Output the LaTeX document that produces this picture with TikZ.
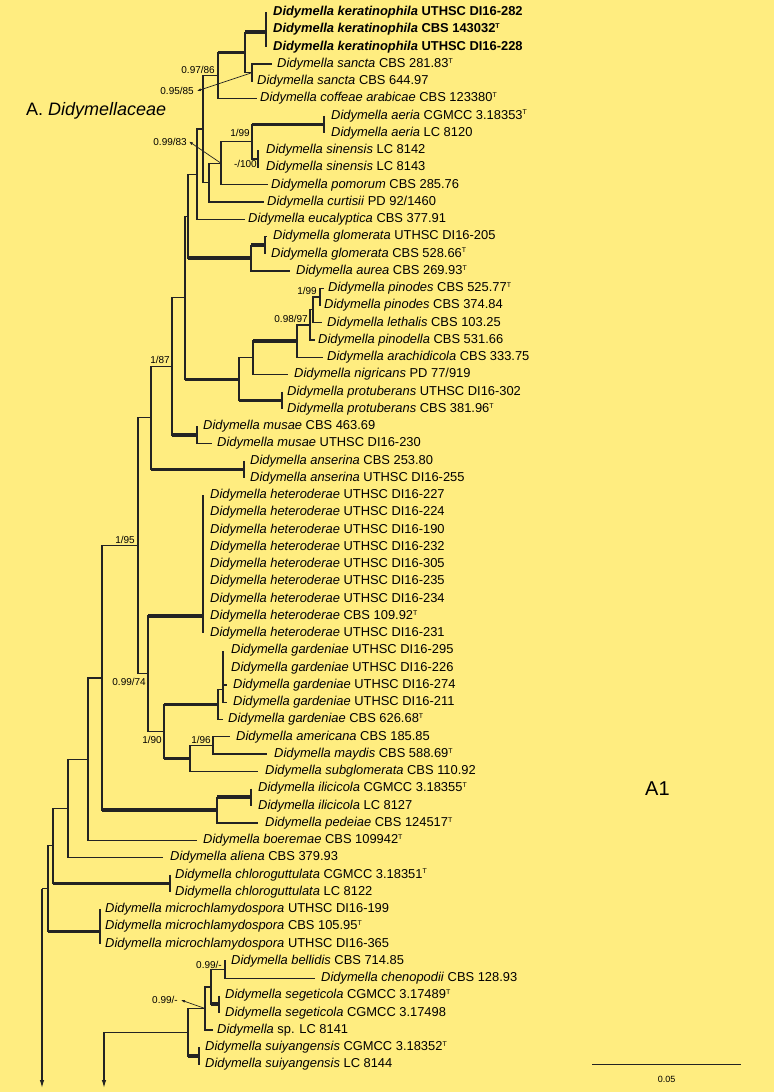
\documentclass[tikz,border=0pt]{standalone}
\usepackage{fontspec}
\setmainfont{Liberation Sans}
\usetikzlibrary{positioning,arrows.meta}
\definecolor{Paper}{RGB}{255,237,128}
\definecolor{Ink}{RGB}{35,35,35}
\newcommand\did[2]{\textit{Didymella #1} #2}
\newcommand\typ{\raisebox{4.3pt}{\fontsize{7}{7}\selectfont T}}

\begin{document}
\begin{tikzpicture}[x=1pt,y=-17.25pt,
 ln/.style={draw=Ink,line width=1.2pt},
 tk/.style={draw=Ink,line width=3.4pt},
 tax/.style={anchor=west,inner sep=0pt,font=\fontsize{12.9}{14}\selectfont,text height=9.3pt,text depth=2.7pt},
 bs/.style={inner sep=0pt,font=\fontsize{10}{11}\selectfont,text height=7.2pt,text depth=0pt},
 ptr/.style={draw=Ink,line width=.7pt,-{Latex[length=4pt,width=3pt]}},
 root/.style={draw=Ink,line width=1.2pt,-{Latex[length=8pt,width=4.5pt]}}]
\fill[Paper] (0,0.28696) rectangle (774,63.5913);

% tips
\coordinate (t1) at (266,1); \coordinate (t2) at (266,2); \coordinate (t3) at (266,3);
\coordinate (t4) at (272,4); \coordinate (t5) at (253,5); \coordinate (t6) at (257,6);
\coordinate (t7) at (324,7); \coordinate (t8) at (324,8);
\coordinate (t9) at (258,9); \coordinate (t10) at (258,10);
\coordinate (t11) at (268,11); \coordinate (t12) at (264,12); \coordinate (t13) at (245,13);
\coordinate (t14) at (267,14); \coordinate (t15) at (265,15); \coordinate (t16) at (290,16);
\coordinate (t17) at (324,17); \coordinate (t18) at (320,18); \coordinate (t19) at (322,19);
\coordinate (t20) at (315,20); \coordinate (t21) at (323,21); \coordinate (t22) at (288,22);
\coordinate (t23) at (282,23); \coordinate (t24) at (282,24);
\coordinate (t25) at (197,25); \coordinate (t26) at (212,26);
\coordinate (t27) at (244,27); \coordinate (t28) at (244,28);
\coordinate (t29) at (203,29); \coordinate (t30) at (203,30); \coordinate (t31) at (203,31);
\coordinate (t32) at (203,32); \coordinate (t33) at (203,33); \coordinate (t34) at (203,34);
\coordinate (t35) at (203,35); \coordinate (t36) at (203,36); \coordinate (t37) at (203,37);
\coordinate (t38) at (223,38); \coordinate (t39) at (223,39); \coordinate (t40) at (227,40);
\coordinate (t41) at (227,41); \coordinate (t42) at (223,42);
\coordinate (t43) at (230,43); \coordinate (t44) at (267,44); \coordinate (t45) at (258,45);
\coordinate (t46) at (251,46); \coordinate (t47) at (251,47); \coordinate (t48) at (258,48);
\coordinate (t49) at (197,49); \coordinate (t50) at (163,50);
\coordinate (t51) at (170,51); \coordinate (t52) at (170,52);
\coordinate (t53) at (100,53); \coordinate (t54) at (100,54); \coordinate (t55) at (100,55);
\coordinate (t56) at (226,56); \coordinate (t57) at (315,57);
\coordinate (t58) at (219,58); \coordinate (t59) at (219,59); \coordinate (t60) at (213,60);
\coordinate (t61) at (199,61); \coordinate (t62) at (199,62);

% internal nodes
\coordinate (ker) at (266,2.15); \coordinate (san) at (252,4.5);
\coordinate (kersan) at (245,3.33); \coordinate (cof) at (218,4.67);
\coordinate (aer) at (324,7.5); \coordinate (sin) at (258,9.5);
\coordinate (a199) at (252,8.5); \coordinate (pom) at (221,9.75);
\coordinate (cur) at (209,10.875); \coordinate (n203) at (203,7.77);
\coordinate (euc) at (197,10.385); \coordinate (glo) at (265,14.5);
\coordinate (aur) at (251,15.25); \coordinate (n188) at (188,12.82);
\coordinate (pin) at (320,17.5); \coordinate (let) at (313,18.25);
\coordinate (p9897) at (310,19.125); \coordinate (ara) at (297,20.06);
\coordinate (nig) at (253,21.03); \coordinate (pro) at (282,23.5);
\coordinate (n239) at (239,22.27); \coordinate (n185) at (185,17.54);
\coordinate (mus) at (197,25.5); \coordinate (a187) at (172,21.52);
\coordinate (ans) at (244,27.5); \coordinate (n151) at (151,24.51);
\coordinate (het) at (203,36); \coordinate (gar4) at (223,40.25);
\coordinate (gar) at (218,41.125); \coordinate (a196) at (213,43.5);
\coordinate (sub) at (190,44.25); \coordinate (a190) at (164,42.69);
\coordinate (a9974) at (148,39.34); \coordinate (a195) at (138,31.93);
\coordinate (ili) at (251,46.5); \coordinate (ped) at (217,47.25);
\coordinate (n102) at (102,39.59); \coordinate (boe) at (88,44.3);
\coordinate (ali) at (68,47.15); \coordinate (chl) at (170,51.5);
\coordinate (n53) at (53,49.32); \coordinate (mic) at (100,54.3);
\coordinate (n48) at (48,51.81); \coordinate (n42) at (42,51.81);
\coordinate (e42) at (42,63.36);
\coordinate (bel) at (225,56.5); \coordinate (seg) at (219,58.5);
\coordinate (n211) at (211,57.5); \coordinate (x205) at (205,58.75);
\coordinate (sui) at (199,61.5); \coordinate (w188) at (188,60.125);
\coordinate (n104) at (104,60.125); \coordinate (e104) at (104,63.36);

% branches
\draw[ln] (t1)--(t3); \draw[ln] (san)|-(t4); \draw[ln] (san)|-(t5);
\draw[ln] (kersan)|-(ker); \draw[tk] (kersan|-ker)--(ker); \draw[ln] (kersan)|-(san);
\draw[ln] (cof)|-(kersan); \draw[tk] (cof|-kersan)--(kersan); \draw[ln] (cof)|-(t6);
\draw[ln] (t7)--(t8); \draw[ln] (t9)--(t10);
\draw[ln] (a199)|-(aer); \draw[tk] (a199|-aer)--(aer); \draw[ln] (a199)|-(sin);
\draw[ln] (pom)|-(a199); \draw[ln] (pom)|-(t11);
\draw[ln] (cur)|-(pom); \draw[ln] (cur)|-(t12);
\draw[ln] (n203)|-(cof); \draw[ln] (n203)|-(cur);
\draw[ln] (euc)|-(n203); \draw[ln] (euc)|-(t13);
\draw[ln] (glo)|-(t14); \draw[ln] (glo)|-(t15);
\draw[ln] (aur)|-(glo); \draw[tk] (aur|-glo)--(glo); \draw[ln] (aur)|-(t16);
\draw[ln] (n188)|-(euc); \draw[ln] (n188)|-(aur); \draw[tk] (n188|-aur)--(aur);
\draw[ln] (pin)|-(t17); \draw[ln] (pin)|-(t18);
\draw[ln] (let)|-(pin); \draw[ln] (let)|-(t19);
\draw[ln] (p9897)|-(let); \draw[ln] (p9897)|-(t20);
\draw[ln] (ara)|-(p9897); \draw[ln] (ara)|-(t21);
\draw[ln] (nig)|-(ara); \draw[tk] (nig|-ara)--(ara); \draw[ln] (nig)|-(t22);
\draw[ln] (t23)--(t24);
\draw[ln] (n239)|-(nig); \draw[ln] (n239)|-(pro); \draw[tk] (n239|-pro)--(pro);
\draw[ln] (n185)|-(n188); \draw[ln] (n185)|-(n239); \draw[tk] (n185|-n239)--(n239);
\draw[ln] (mus)|-(t25); \draw[ln] (mus)|-(t26);
\draw[ln] (a187)|-(n185); \draw[ln] (a187)|-(mus); \draw[tk] (a187|-mus)--(mus);
\draw[ln] (t27)--(t28);
\draw[ln] (n151)|-(a187); \draw[ln] (n151)|-(ans); \draw[tk] (n151|-ans)--(ans);
\draw[ln] (t29)--(t37);
\draw[ln] (gar4)|-(t38); \draw[ln] (gar4)|-(t39); \draw[ln] (gar4)|-(t40); \draw[ln] (gar4)|-(t41);
\draw[ln] (gar)|-(gar4); \draw[ln] (gar)|-(t42);
\draw[ln] (a196)|-(t43); \draw[ln] (a196)|-(t44);
\draw[ln] (sub)|-(a196); \draw[ln] (sub)|-(t45);
\draw[ln] (a190)|-(gar); \draw[tk] (a190|-gar)--(gar); \draw[ln] (a190)|-(sub); \draw[tk] (a190|-sub)--(sub);
\draw[ln] (a9974)|-(het); \draw[tk] (a9974|-het)--(het); \draw[ln] (a9974)|-(a190);
\draw[ln] (a195)|-(n151); \draw[ln] (a195)|-(a9974);
\draw[ln] (t46)--(t47);
\draw[ln] (ped)|-(ili); \draw[tk] (ped|-ili)--(ili); \draw[ln] (ped)|-(t48);
\draw[ln] (n102)|-(a195); \draw[ln] (n102)|-(ped); \draw[tk] (n102|-ped)--(ped);
\draw[ln] (boe)|-(n102); \draw[ln] (boe)|-(t49);
\draw[ln] (ali)|-(boe); \draw[ln] (ali)|-(t50);
\draw[ln] (t51)--(t52);
\draw[ln] (n53)|-(ali); \draw[ln] (n53)|-(chl); \draw[tk] (n53|-chl)--(chl);
\draw[ln] (t53)--(t55);
\draw[ln] (n48)|-(n53); \draw[ln] (n48)|-(mic); \draw[tk] (n48|-mic)--(mic);
\draw[ln] (n42)--(n48); \draw[root] (n42)--(e42);
\draw[ln] (bel)|-(t56); \draw[ln] (bel)|-(t57);
\draw[ln] (t58)--(t59);
\draw[ln] (n211)|-(bel); \draw[ln] (n211)|-(seg); \draw[tk] (n211|-seg)--(seg);
\draw[ln] (x205)|-(n211); \draw[ln] (x205)|-(t60);
\draw[ln] (t61)--(t62);
\draw[ln] (w188)|-(x205); \draw[ln] (w188)|-(sui); \draw[tk] (w188|-sui)--(sui);
\draw[ln] (n104)--(w188); \draw[root] (n104)--(e104);

% taxa
\node[tax,right=7pt of t1] (l1) {\textbf{\textit{Didymella keratinophila} UTHSC DI16-282}};
\node[tax,right=7pt of t2] (l2) {\textbf{\textit{Didymella keratinophila} CBS 143032\typ}};
\node[tax,right=7pt of t3] (l3) {\textbf{\textit{Didymella keratinophila} UTHSC DI16-228}};
\node[tax,right=5pt of t4] (l4) {\did{sancta}{CBS 281.83\typ}};
\node[tax,right=4pt of t5] (l5) {\did{sancta}{CBS 644.97}};
\node[tax,right=3pt of t6] (l6) {\did{coffeae arabicae}{CBS 123380\typ}};
\node[tax,right=7pt of t7] (l7) {\did{aeria}{CGMCC 3.18353\typ}};
\node[tax,right=7pt of t8] (l8) {\did{aeria}{LC 8120}};
\node[tax,right=8pt of t9] (l9) {\did{sinensis}{LC 8142}};
\node[tax,right=8pt of t10] (l10) {\did{sinensis}{LC 8143}};
\node[tax,right=3pt of t11] (l11) {\did{pomorum}{CBS 285.76}};
\node[tax,right=3pt of t12] (l12) {\did{curtisii}{PD 92/1460}};
\node[tax,right=3pt of t13] (l13) {\did{eucalyptica}{CBS 377.91}};
\node[tax,right=6pt of t14] (l14) {\did{glomerata}{UTHSC DI16-205}};
\node[tax,right=6pt of t15] (l15) {\did{glomerata}{CBS 528.66\typ}};
\node[tax,right=6pt of t16] (l16) {\did{aurea}{CBS 269.93\typ}};
\node[tax,right=4pt of t17] (l17) {\did{pinodes}{CBS 525.77\typ}};
\node[tax,right=4pt of t18] (l18) {\did{pinodes}{CBS 374.84}};
\node[tax,right=5pt of t19] (l19) {\did{lethalis}{CBS 103.25}};
\node[tax,right=3pt of t20] (l20) {\did{pinodella}{CBS 531.66}};
\node[tax,right=4pt of t21] (l21) {\did{arachidicola}{CBS 333.75}};
\node[tax,right=6pt of t22] (l22) {\did{nigricans}{PD 77/919}};
\node[tax,right=5pt of t23] (l23) {\did{protuberans}{UTHSC DI16-302}};
\node[tax,right=5pt of t24] (l24) {\did{protuberans}{CBS 381.96\typ}};
\node[tax,right=6pt of t25] (l25) {\did{musae}{CBS 463.69}};
\node[tax,right=5pt of t26] (l26) {\did{musae}{UTHSC DI16-230}};
\node[tax,right=6pt of t27] (l27) {\did{anserina}{CBS 253.80}};
\node[tax,right=6pt of t28] (l28) {\did{anserina}{UTHSC DI16-255}};
\node[tax,right=7pt of t29] (l29) {\did{heteroderae}{UTHSC DI16-227}};
\node[tax,right=7pt of t30] (l30) {\did{heteroderae}{UTHSC DI16-224}};
\node[tax,right=7pt of t31] (l31) {\did{heteroderae}{UTHSC DI16-190}};
\node[tax,right=7pt of t32] (l32) {\did{heteroderae}{UTHSC DI16-232}};
\node[tax,right=7pt of t33] (l33) {\did{heteroderae}{UTHSC DI16-305}};
\node[tax,right=7pt of t34] (l34) {\did{heteroderae}{UTHSC DI16-235}};
\node[tax,right=7pt of t35] (l35) {\did{heteroderae}{UTHSC DI16-234}};
\node[tax,right=7pt of t36] (l36) {\did{heteroderae}{CBS 109.92\typ}};
\node[tax,right=7pt of t37] (l37) {\did{heteroderae}{UTHSC DI16-231}};
\node[tax,right=8pt of t38] (l38) {\did{gardeniae}{UTHSC DI16-295}};
\node[tax,right=8pt of t39] (l39) {\did{gardeniae}{UTHSC DI16-226}};
\node[tax,right=6pt of t40] (l40) {\did{gardeniae}{UTHSC DI16-274}};
\node[tax,right=6pt of t41] (l41) {\did{gardeniae}{UTHSC DI16-211}};
\node[tax,right=5pt of t42] (l42) {\did{gardeniae}{CBS 626.68\typ}};
\node[tax,right=6pt of t43] (l43) {\did{americana}{CBS 185.85}};
\node[tax,right=7pt of t44] (l44) {\did{maydis}{CBS 588.69\typ}};
\node[tax,right=7pt of t45] (l45) {\did{subglomerata}{CBS 110.92}};
\node[tax,right=7pt of t46] (l46) {\did{ilicicola}{CGMCC 3.18355\typ}};
\node[tax,right=7pt of t47] (l47) {\did{ilicicola}{LC 8127}};
\node[tax,right=7pt of t48] (l48) {\did{pedeiae}{CBS 124517\typ}};
\node[tax,right=6pt of t49] (l49) {\did{boeremae}{CBS 109942\typ}};
\node[tax,right=7pt of t50] (l50) {\did{aliena}{CBS 379.93}};
\node[tax,right=5pt of t51] (l51) {\did{chloroguttulata}{CGMCC 3.18351\typ}};
\node[tax,right=5pt of t52] (l52) {\did{chloroguttulata}{LC 8122}};
\node[tax,right=5pt of t53] (l53) {\did{microchlamydospora}{UTHSC DI16-199}};
\node[tax,right=5pt of t54] (l54) {\did{microchlamydospora}{CBS 105.95\typ}};
\node[tax,right=5pt of t55] (l55) {\did{microchlamydospora}{UTHSC DI16-365}};
\node[tax,right=5pt of t56] (l56) {\did{bellidis}{CBS 714.85}};
\node[tax,right=6pt of t57] (l57) {\did{chenopodii}{CBS 128.93}};
\node[tax,right=6pt of t58] (l58) {\did{segeticola}{CGMCC 3.17489\typ}};
\node[tax,right=6pt of t59] (l59) {\did{segeticola}{CGMCC 3.17498}};
\node[tax,right=4pt of t60] (l60) {\textit{Didymella} sp. LC 8141};
\node[tax,right=6pt of t61] (l61) {\did{suiyangensis}{CGMCC 3.18352\typ}};
\node[tax,right=6pt of t62] (l62) {\did{suiyangensis}{LC 8144}};

% support values
\node[bs,above left=2.3pt and 3pt of cof] (s1) {0.97/86};
\node[bs,anchor=east] (s2) at (194,5.56) {0.95/85};
\draw[ptr] (san)--([xshift=3pt]s2.east);
\node[bs,anchor=east] (s3) at (187,8.49) {0.99/83};
\draw[ptr] (pom)--([xshift=2pt]s3.east);
\node[bs,above left=5pt and 2pt of a199] (s4) {1/99};
\node[bs,below left=1.2pt and 1pt of sin] (s5) {-/100};
\node[bs,above left=2.1pt and 3pt of pin] (s6) {1/99};
\node[bs,above left=2.4pt and 2pt of p9897] (s7) {0.98/97};
\node[bs,above left=2.8pt and 2pt of a187] (s8) {1/87};
\node[bs,above left=2.3pt and 3pt of a195] (s9) {1/95};
\node[bs,below left=4.8pt and 2pt of a9974] (s10) {0.99/74};
\node[bs,below left=5pt and 2pt of a190] (s11) {1/90};
\node[bs,above left=1.9pt and 2pt of a196] (s12) {1/96};
\node[bs,above left=1pt and 3pt of bel] (s13) {0.99/-};
\node[bs,anchor=east] (s14) at (178,58.26) {0.99/-};
\draw[ptr] (x205)--([xshift=3pt]s14.east);

% headings and scale
\node[anchor=west,inner sep=0pt,font=\fontsize{18}{20}\selectfont,text height=13pt,text depth=3.8pt] (ttl) at (26,6.72) {A. \textit{Didymellaceae}};
\node[anchor=west,inner sep=0pt,font=\fontsize{20}{22}\selectfont,text height=14.3pt,text depth=0pt] (a1) at (645,45.97) {A1};
\coordinate (sb1) at (592,62.01); \coordinate (sb2) at (741,62.01);
\draw[ln] (sb1)--node[bs,font=\fontsize{9}{10}\selectfont,below=9.5pt] (sbl) {0.05} (sb2);
\end{tikzpicture}
\end{document}
